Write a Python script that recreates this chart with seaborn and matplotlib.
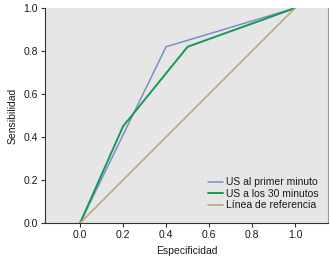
import numpy as np
import pandas as pd
import matplotlib
matplotlib.use('Agg')
import matplotlib.pyplot as plt
import seaborn as sns

# ROC curve points
x_primer = [0.0, 0.4, 1.0]
y_primer = [0.0, 0.82, 1.0]
x_30 = [0.0, 0.2, 0.5, 1.0]
y_30 = [0.0, 0.45, 0.82, 1.0]
x_ref = [0.0, 1.0]
y_ref = [0.0, 1.0]
labels = ['US al primer minuto', 'US a los 30 minutos', 'Línea de referencia']
colors = ['#7b8fc6', '#159a55', '#b8ab80']

sns.set_style('white')
plt.rcParams['font.family'] = ['Liberation Sans', 'DejaVu Sans']

fig = plt.figure(figsize=(3.31, 2.6), dpi=100)
ax = fig.add_axes([0.136, 0.142, 0.855, 0.827])
ax.set_facecolor('#e6e6e6')

sns.lineplot(x=x_primer, y=y_primer, color=colors[0], lw=1.1, label=labels[0], ax=ax, sort=False)
sns.lineplot(x=x_30, y=y_30, color=colors[1], lw=1.4, label=labels[1], ax=ax, sort=False)
sns.lineplot(x=x_ref, y=y_ref, color=colors[2], lw=1.2, label=labels[2], ax=ax, sort=False)

ax.set_xlim(-0.163, 1.153)
ax.set_ylim(0, 1)
ax.set_xticks([0.0, 0.2, 0.4, 0.6, 0.8, 1.0])
ax.set_yticks([0.0, 0.2, 0.4, 0.6, 0.8, 1.0])
ax.xaxis.set_major_formatter(matplotlib.ticker.FormatStrFormatter('%.1f'))
ax.yaxis.set_major_formatter(matplotlib.ticker.FormatStrFormatter('%.1f'))
ax.tick_params(axis='both', labelsize=7.5, length=3, width=0.8, color='#333333', pad=2,
               bottom=True, left=True, labelcolor='#1a1a1a')
ax.set_xlabel('Especificidad', fontsize=7.5, labelpad=4, color='#1a1a1a')
ax.set_ylabel('Sensibilidad', fontsize=7.5, labelpad=4, color='#1a1a1a')

for side in ['left', 'bottom']:
    ax.spines[side].set_color('#333333')
    ax.spines[side].set_linewidth(0.8)
ax.spines['right'].set_color('#999999')
ax.spines['right'].set_linewidth(0.8)
ax.spines['top'].set_visible(False)

leg = ax.legend(loc='lower right', fontsize=7.5, frameon=False, handlelength=1.4,
                handletextpad=0.35, labelspacing=0.15, bbox_to_anchor=(1.0, 0.015))
for t in leg.get_texts():
    t.set_color('#1a1a1a')

fig.savefig('out.png', dpi=100)
